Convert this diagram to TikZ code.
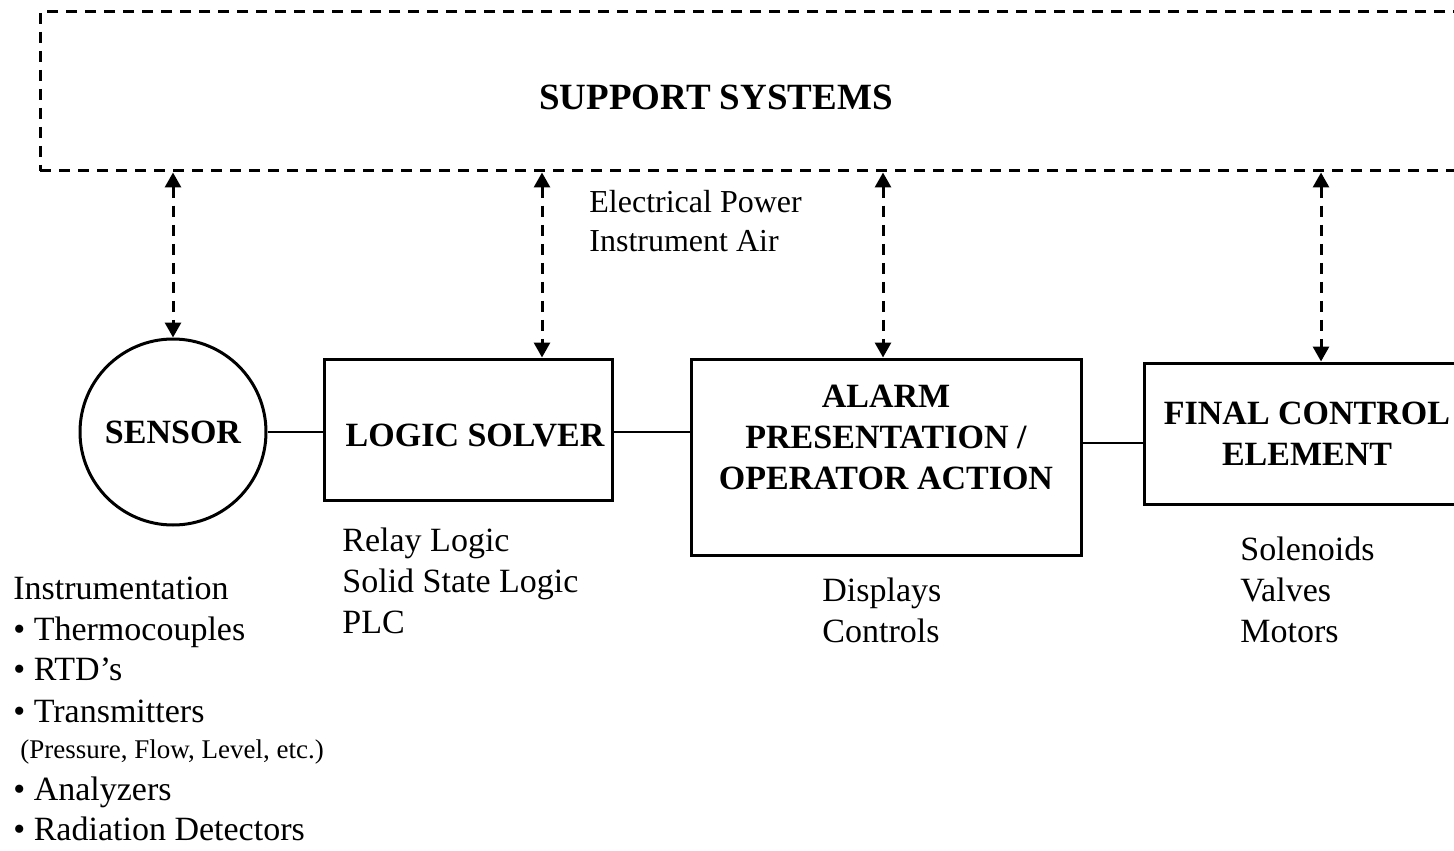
\documentclass[tikz,border=0pt]{standalone}
\usepackage{fontspec}
\setmainfont{Liberation Serif}
\usetikzlibrary{arrows.meta}
\begin{document}
\begin{tikzpicture}[x=0.5pt,y=-0.5pt,
  box/.style={draw, line width=1.5pt, rectangle, inner sep=0pt, font=\fontsize{17}{20.5}\selectfont\bfseries, align=center},
  supbox/.style={draw, line width=1.5pt, dash pattern=on 5.5pt off 4pt, rectangle, inner sep=0pt},
  sarrow/.style={line width=1.5pt, dash pattern=on 5.5pt off 4pt, {Triangle[width=8pt,length=7.5pt]}-{Triangle[width=8pt,length=7.5pt]}},
  conn/.style={line width=1.4pt},
  lbl/.style={anchor=base west, inner sep=0pt, font=\fontsize{17}{20.5}\selectfont},
  smalllbl/.style={anchor=base west, inner sep=0pt, font=\fontsize{13.5}{16}\selectfont},
  powlbl/.style={anchor=base west, inner sep=0pt, font=\fontsize{16}{19}\selectfont}
  ]
\useasboundingbox (0,0) rectangle (1454,850);

% support systems
\node[supbox, minimum width=720pt, minimum height=79.5pt] (support) at (760,91.5) {};
\node[inner sep=0pt, font=\fontsize{18.5}{22}\selectfont\bfseries] (suptitle) at (716,97) {SUPPORT SYSTEMS};

% main elements
\node[draw, circle, line width=1.5pt, minimum size=93pt, inner sep=0pt, font=\fontsize{17}{20.5}\selectfont\bfseries] (sensor) at (173,432) {SENSOR};
\node[box, minimum width=144pt, minimum height=70.5pt] (logic) at (468,429.5) {\hspace*{7pt}\raisebox{-3pt}[\height][\depth]{LOGIC SOLVER}};
\node[box, minimum width=195pt, minimum height=98pt] (alarm) at (886,457) {};
\node[inner sep=0pt, align=center, font=\fontsize{17}{20.5}\selectfont\bfseries] (alarmtxt) at (886,437) {ALARM\\PRESENTATION /\\OPERATOR ACTION};
\node[box, minimum width=163pt, minimum height=70.5pt] (fce) at (1307,433.5) {FINAL CONTROL\\ELEMENT};

% horizontal connectors
\draw[conn] (sensor.east) -- (logic.west |- sensor.east);
\draw[conn] ([yshift=-1.25pt]logic.east) -- ([yshift=-1.25pt]logic.east -| alarm.west);
\draw[conn] ([yshift=-4.75pt]fce.west) -- ([yshift=-4.75pt]fce.west -| alarm.east);

% support arrows
\coordinate (a2) at (542,0);
\coordinate (a3) at (883,0);
\coordinate (a4) at (1321,0);
\draw[sarrow] (support.south -| sensor.north) -- (sensor.north);
\draw[sarrow] (support.south -| a2) -- (logic.north -| a2);
\draw[sarrow] (support.south -| a3) -- (alarm.north -| a3);
\draw[sarrow] (support.south -| a4) -- (fce.north -| a4);

% labels
\node[powlbl] (ep) at (589,213) {Electrical Power};
\node[powlbl] (ia) at (589,251) {Instrument Air};

\node[lbl] (rl) at (342,551) {Relay Logic};
\node[lbl] (ssl) at (342,592) {Solid State Logic};
\node[lbl] (plc) at (342,633) {PLC};

\node[lbl] (disp) at (822,601) {Displays};
\node[lbl] (ctrl) at (822,642) {Controls};

\node[lbl] (sol) at (1240,560) {Solenoids};
\node[lbl] (val) at (1240,601) {Valves};
\node[lbl] (mot) at (1240,642) {Motors};

\node[lbl] (inst) at (13,599) {Instrumentation};
\node[lbl] (tc) at (13,640) {• Thermocouples};
\node[lbl] (rtd) at (13,680) {• RTD’s};
\node[lbl] (tr) at (13,722) {• Transmitters};
\node[smalllbl] (pfl) at (20,758) {(Pressure, Flow, Level, etc.)};
\node[lbl] (an) at (13,800) {• Analyzers};
\node[lbl] (rd) at (13,840) {• Radiation Detectors};
\end{tikzpicture}
\end{document}
